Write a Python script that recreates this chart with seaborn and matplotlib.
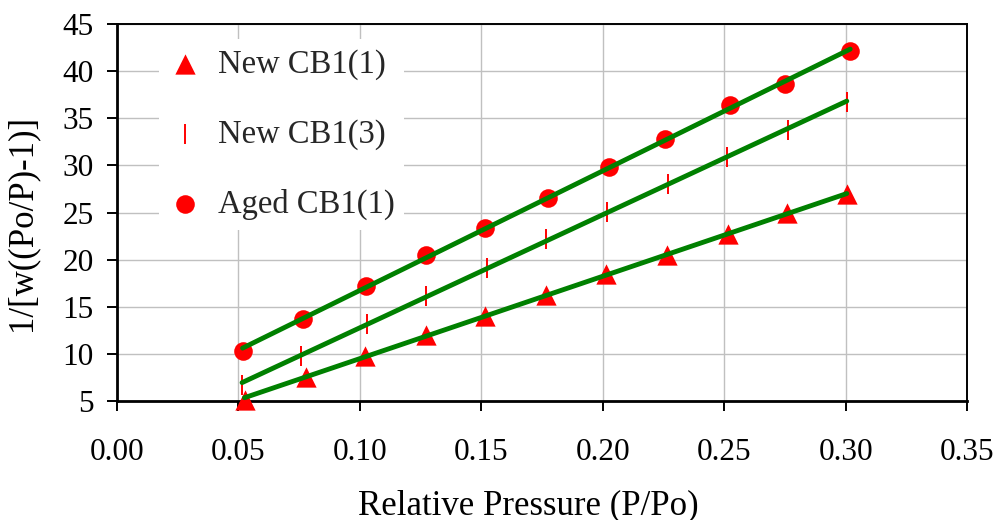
import numpy as np
import pandas as pd
import matplotlib
matplotlib.use("Agg")
import matplotlib.pyplot as plt
import seaborn as sns
from matplotlib.ticker import FormatStrFormatter

# ---- data ----
series_names = ["New CB1(1)", "New CB1(3)", "Aged CB1(1)"]
x_new1 = [0.0525, 0.0777, 0.1020, 0.1272, 0.1516, 0.1766, 0.2014, 0.2266, 0.2517, 0.2758, 0.3005]
y_new1 = [5.15, 7.57, 9.77, 11.98, 14.02, 16.22, 18.45, 20.47, 22.68, 24.90, 26.95]
x_new3 = [0.0515, 0.0759, 0.1029, 0.1273, 0.1523, 0.1767, 0.2017, 0.2268, 0.2511, 0.2761, 0.3005]
y_new3 = [6.75, 9.77, 13.22, 16.09, 19.16, 22.17, 25.07, 27.99, 30.85, 33.75, 36.75]
x_aged = [0.0517, 0.0767, 0.1025, 0.1273, 0.1516, 0.1773, 0.2024, 0.2258, 0.2525, 0.2751, 0.3019]
y_aged = [10.28, 13.75, 17.18, 20.44, 23.31, 26.49, 29.78, 32.79, 36.40, 38.60, 42.17]
x_ticks = [0.00, 0.05, 0.10, 0.15, 0.20, 0.25, 0.30, 0.35]
y_ticks = [5, 10, 15, 20, 25, 30, 35, 40, 45]
x_label = "Relative Pressure (P/Po)"
y_label = "1/[w((Po/P)-1)]"

sns.set_theme(style="white")
plt.rcParams["font.family"] = ["Liberation Serif", "DejaVu Serif"]
plt.rcParams["mathtext.default"] = "regular"

fig = plt.figure(figsize=(9.97, 5.20), dpi=100)
ax = fig.add_axes([117 / 997, 1 - 401 / 520, (967 - 117) / 997, (401 - 24) / 520])

red = "#ff0000"
green = "#008000"

series = [
    (x_new1, y_new1, "^", 14.6, None),
    (x_new3, y_new3, "|", 14.4, 1.4),
    (x_aged, y_aged, "o", 13.4, None),
]

for (xs, ys, mk, ms, mew), name in zip(series, series_names):
    df = pd.DataFrame({"x": xs, "y": ys})
    sns.scatterplot(data=df, x="x", y="y", marker=mk, s=ms ** 2, color=red,
                    edgecolor=red if mk != "|" else None,
                    linewidth=mew if mew else 0, label=name, ax=ax,
                    clip_on=False, zorder=3)
    sns.regplot(data=df, x="x", y="y", scatter=False, ci=None, truncate=True,
                color=green, line_kws={"lw": 3.5, "zorder": 4, "solid_capstyle": "round"},
                ax=ax)

ax.set_xlim(0, 0.35)
ax.set_ylim(5, 45)
ax.set_xticks(x_ticks)
ax.set_yticks(y_ticks)
ax.xaxis.set_major_formatter(FormatStrFormatter("%.2f"))
ax.grid(True, color="#c0c0c0", lw=1.0)
ax.set_axisbelow(True)
for sp in ax.spines.values():
    sp.set_visible(True)
    sp.set_color("black")
    sp.set_linewidth(1.4)
ax.spines["bottom"].set_linewidth(2.0)
ax.spines["left"].set_linewidth(2.0)
ax.tick_params(axis="both", direction="out", length=7, width=1.4, color="black",
               labelsize=22.5, labelcolor="black", bottom=True, left=True)
ax.tick_params(axis="x", pad=20)
ax.tick_params(axis="y", pad=10)
ax.set_xlabel(x_label, fontsize=25, color="black")
ax.set_ylabel(y_label, fontsize=25, color="black")
ax.xaxis.set_label_coords(0.484, -0.233)
ax.yaxis.set_label_coords(-0.092, 0.472)

leg = ax.legend(loc="upper left", bbox_to_anchor=(0.0416, 0.977), frameon=True,
                fontsize=23.5, labelspacing=1.2, handletextpad=0.5,
                handlelength=1.0, borderpad=0.3, borderaxespad=0.2,
                markerscale=1.0)
leg.get_frame().set_facecolor("white")
leg.get_frame().set_edgecolor("none")
leg.get_frame().set_alpha(1.0)
leg.set_zorder(10)

fig.savefig("out.png", dpi=100)
